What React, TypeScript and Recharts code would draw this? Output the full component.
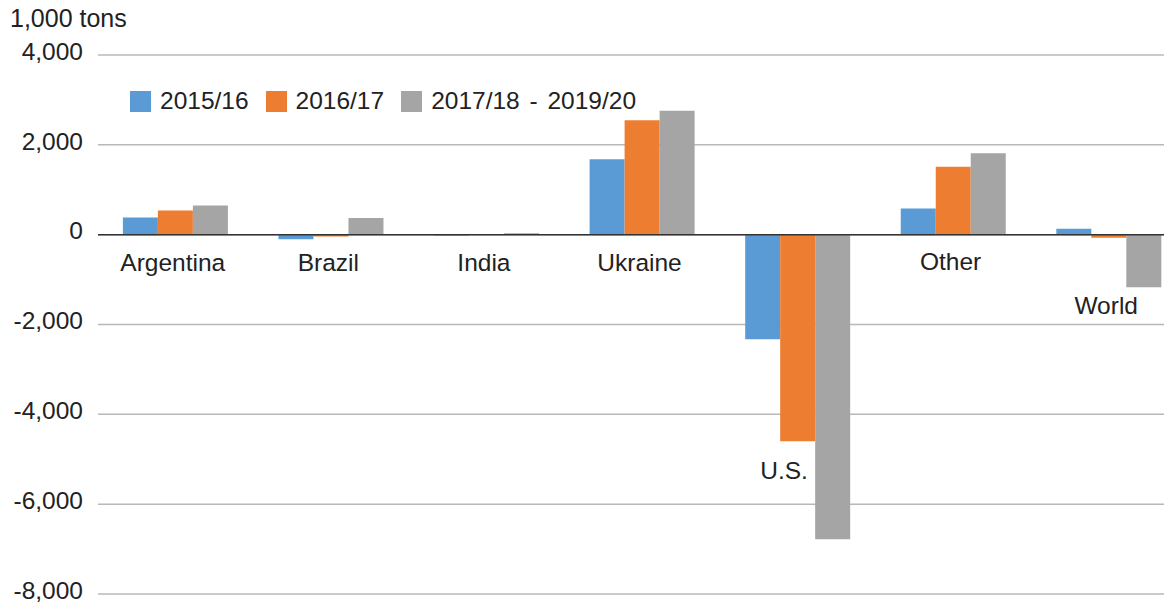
import { BarChart, Bar, XAxis, YAxis, CartesianGrid, Legend, ReferenceLine, ReferenceDot, Label } from 'recharts';

const categories = ['Argentina', 'Brazil', 'India', 'Ukraine', 'U.S.', 'Other', 'World'];
const y2015 = [380, -100, -20, 1680, -2330, 580, 130];
const y2016 = [540, -40, -5, 2550, -4600, 1510, -70];
const y2017 = [650, 370, 30, 2760, -6780, 1810, -1170];
// where each category name sits, in 1,000 tons
const labelAt = [-610, -610, -610, -610, -5240, -590, -1570];
const yTicks = [-8000, -6000, -4000, -2000, 0, 2000, 4000];

const seriesNames = ['2015/16', '2016/17', '2017/18 - 2019/20'];
const colors = ['#5B9BD5', '#ED7D31', '#A5A5A5'];

const data = categories.map((name, i) => ({
  name,
  a: y2015[i],
  b: y2016[i],
  c: y2017[i],
}));

const font = '"Liberation Sans", Arial, sans-serif';
const fs = 24.5;

function LegendBox() {
  return (
    <div style={{ display: 'flex', alignItems: 'center', fontFamily: font, fontSize: fs, color: '#222' }}>
      {seriesNames.map((s, i) => (
        <div key={s} style={{ display: 'flex', alignItems: 'center', marginRight: 17 }}>
          <span style={{ display: 'inline-block', width: 21, height: 21, background: colors[i], marginRight: 9 }} />
          <span style={{ wordSpacing: 3 }}>{s}</span>
        </div>
      ))}
    </div>
  );
}

export default function App() {
  return (
    <div style={{ position: 'absolute', left: 0, top: 0, width: 1164, height: 602, overflow: 'hidden', fontFamily: font, background: '#fff' }}>
      <div style={{ position: 'absolute', left: 10, top: 4, fontSize: 25, color: '#222' }}>1,000 tons</div>
      <BarChart
        width={1190}
        height={602}
        data={data}
        margin={{ top: 55, right: 3, bottom: 8, left: 0 }}
        barCategoryGap="16%"
        barGap={0}
      >
        <CartesianGrid vertical={false} stroke="#b8b8b8" strokeWidth={1.5} />
        <XAxis dataKey="name" hide />
        <YAxis
          width={98}
          domain={[-8000, 4000]}
          ticks={yTicks}
          interval={0}
          axisLine={false}
          tickLine={false}
          tickSize={0}
          tickMargin={15}
          tick={{ fontSize: fs, fill: '#222', fontFamily: font, dy: -4 }}
          tickFormatter={(v: number) => v.toLocaleString('en-US')}
        />
        <Legend
          layout="horizontal"
          verticalAlign="middle"
          align="center"
          content={() => <LegendBox />}
          wrapperStyle={{ position: 'absolute', top: 87, left: 130, width: 'auto' }}
        />
        <Bar dataKey="a" name={seriesNames[0]} fill={colors[0]} isAnimationActive={false} />
        <Bar dataKey="b" name={seriesNames[1]} fill={colors[1]} isAnimationActive={false} />
        <Bar dataKey="c" name={seriesNames[2]} fill={colors[2]} isAnimationActive={false} />
        <ReferenceLine y={0} stroke="#333" strokeWidth={1.5} />
        {categories.map((c, i) => (
          <ReferenceDot key={c} x={c} y={labelAt[i]} r={0} fill="none" stroke="none">
            <Label value={c} position="center" dx={c === 'U.S.' ? -14 : -3} fill="#222" fontSize={fs} fontFamily={font} />
          </ReferenceDot>
        ))}
      </BarChart>
    </div>
  );
}
